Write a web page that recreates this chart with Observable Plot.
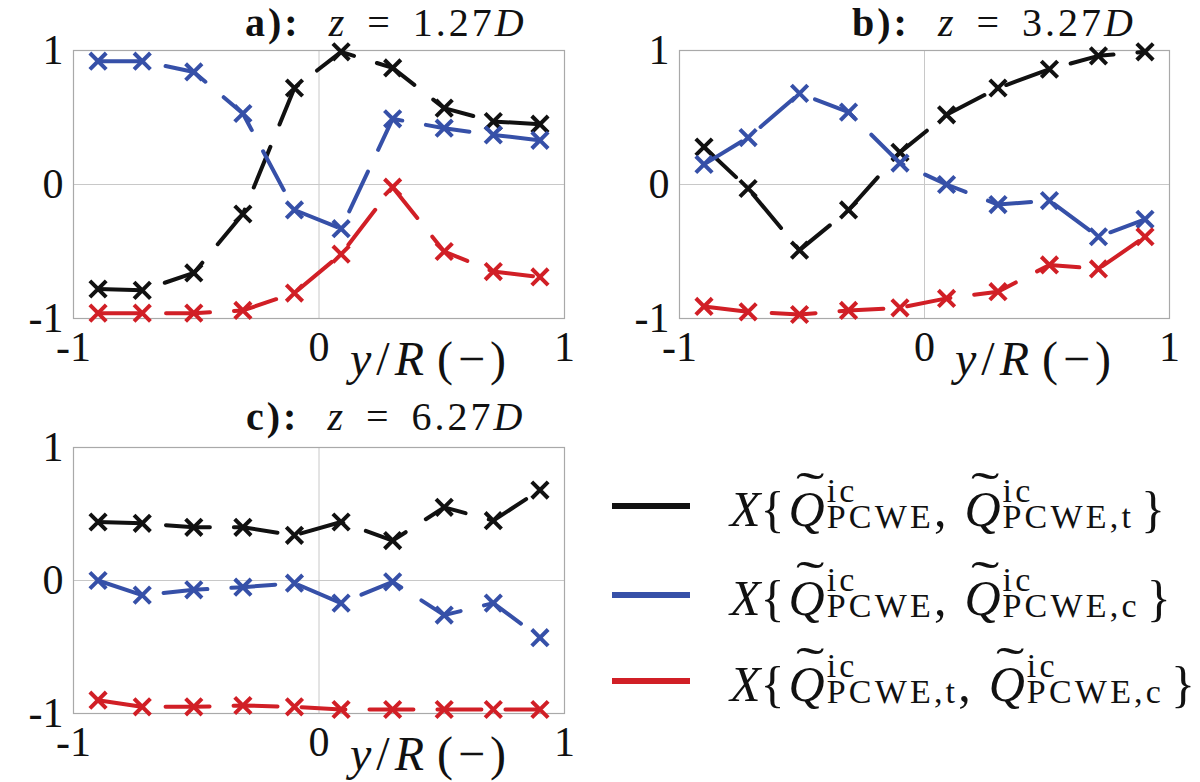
<!DOCTYPE html>
<html><head><meta charset="utf-8">
<script src="https://cdn.jsdelivr.net/npm/d3@7"></script>
<script src="https://cdn.jsdelivr.net/npm/@observablehq/plot@0.6"></script>
<style>
body{margin:0;background:#fff;}
#wrap{position:relative;width:1200px;height:782px;overflow:hidden;color:#111;}
.panel{position:absolute;}
.panel svg{overflow:visible;}
.title{position:absolute;font-size:40px;line-height:40px;white-space:nowrap;letter-spacing:3px;}
.title b{font-weight:bold;margin-right:28px;}
.title .eq{margin:0 20px;}
.xlab{position:absolute;font-size:48px;line-height:48px;white-space:nowrap;letter-spacing:5px;}
.xlab .pr{margin-left:8px;}
.leg{position:absolute;left:612px;display:flex;align-items:center;white-space:nowrap;}
.sw{display:inline-block;width:78px;height:6px;margin-right:40px;}
.m{font-size:50px;line-height:50px;}
.q{position:relative;display:inline-block;margin-left:4px;}
.q::before{content:"\02DC";position:absolute;left:0.14em;top:-0.38em;transform:scaleX(1.7);transform-origin:left center;font-style:normal;}
.ss{display:inline-flex;flex-direction:column;font-size:34px;line-height:26px;vertical-align:24px;margin-left:2px;letter-spacing:3.2px;}
.cm{margin-right:14px;}
.rb{margin-left:7px;}
</style>
</head><body>
<div id="wrap"></div>
<script>
// x positions (y/R)
const yR = [-0.9, -0.72, -0.51, -0.31, -0.1, 0.09, 0.3, 0.51, 0.71, 0.9];
const ticks = [-1, 0, 1];
const seriesKeys = ["PCWE-t", "PCWE-c", "t-c"];
const seriesColors = ["#111111", "#3650a8", "#d11f26"];

// panel a): z = 1.27D
const aBlack = [-0.78, -0.79, -0.66, -0.22, 0.72, 0.99, 0.87, 0.57, 0.47, 0.45];
const aBlue  = [0.92, 0.92, 0.84, 0.53, -0.19, -0.33, 0.49, 0.42, 0.37, 0.33];
const aRed   = [-0.96, -0.96, -0.96, -0.94, -0.81, -0.52, -0.02, -0.50, -0.65, -0.69];
// panel b): z = 3.27D
const bBlack = [0.28, -0.03, -0.49, -0.19, 0.24, 0.52, 0.72, 0.86, 0.96, 0.99];
const bBlue  = [0.15, 0.35, 0.68, 0.54, 0.16, 0.0, -0.15, -0.12, -0.39, -0.26];
const bRed   = [-0.91, -0.95, -0.97, -0.94, -0.92, -0.85, -0.80, -0.60, -0.63, -0.39];
// panel c): z = 6.27D
const cBlack = [0.44, 0.43, 0.40, 0.40, 0.34, 0.44, 0.30, 0.55, 0.45, 0.68];
const cBlue  = [0.0, -0.11, -0.07, -0.05, -0.02, -0.17, -0.01, -0.26, -0.17, -0.43];
const cRed   = [-0.90, -0.95, -0.95, -0.94, -0.95, -0.97, -0.97, -0.97, -0.97, -0.97];

function table(series) {
  const rows = [];
  series.forEach((vals, i) => vals.forEach((v, j) => rows.push({yR: yR[j], v, s: seriesKeys[i]})));
  return rows;
}

const serif = "'Liberation Serif'";
function panel(data, w, h, m) {
  return Plot.plot({
    width: w, height: h,
    marginLeft: m[0], marginRight: m[1], marginTop: m[2], marginBottom: m[3],
    x: {domain: [-1, 1]},
    y: {domain: [-1, 1]},
    color: {domain: seriesKeys, range: seriesColors},
    style: {fontFamily: serif, fontSize: "42px", color: "#111", background: "transparent"},
    marks: [
      Plot.ruleX([0], {stroke: "#c8c8c8", strokeWidth: 1}),
      Plot.ruleY([0], {stroke: "#c8c8c8", strokeWidth: 1}),
      Plot.frame({stroke: "#a9a9a9", strokeWidth: 1.2}),
      Plot.axisX({ticks, tickFormat: d => String(d), tickSize: 0, tickPadding: 13, label: null, fontFamily: serif}),
      Plot.axisY({ticks, tickFormat: d => String(d), tickSize: 0, tickPadding: 10, label: null, fontFamily: serif}),
      ...seriesKeys.flatMap(k => [
        Plot.line(data.filter(d => d.s === k), {x: "yR", y: "v", stroke: "s", strokeWidth: 4, strokeDasharray: "44,24"}),
        Plot.dot(data.filter(d => d.s === k), {x: "yR", y: "v", stroke: "s", symbol: "times", r: 7.5, strokeWidth: 4})
      ])
    ]
  });
}

const wrap = document.getElementById("wrap");
function place(node, left, top) {
  const d = document.createElement("div");
  d.className = "panel";
  d.style.left = left + "px"; d.style.top = top + "px";
  d.appendChild(node);
  wrap.appendChild(d);
}
place(panel(table([aBlack, aBlue, aRed]), 600, 395, [73, 36, 50, 77]), 0, 0);
place(panel(table([bBlack, bBlue, bRed]), 600, 395, [79, 31, 50, 77]), 600, 0);
place(panel(table([cBlack, cBlue, cRed]), 600, 387, [73, 36, 52, 69]), 0, 395);

function addHTML(html) { wrap.insertAdjacentHTML("beforeend", html); }
const ff = `font-family:'Liberation Serif';`;
const titles = [["a):", "1.27", 245, 3], ["b):", "3.27", 852, 3], ["c):", "6.27", 246, 397]];
titles.forEach(([lab, val, l, t]) =>
  addHTML(`<div class="title" style="${ff}left:${l}px;top:${t}px"><b>${lab}</b><i>z</i><span class="eq">=</span>${val}<i>D</i></div>`));
[[350, 335], [955, 335], [350, 730]].forEach(([l, t]) =>
  addHTML(`<div class="xlab" style="${ff}left:${l}px;top:${t}px"><i>y</i>/<i>R</i><span class="pr">(&minus;)</span></div>`));

const legSubs = [["PCWE", "PCWE,t"], ["PCWE", "PCWE,c"], ["PCWE,t", "PCWE,c"]];
const legTops = [478, 567, 653];
legSubs.forEach(([s1, s2], i) => {
  const q = s => `<span class="q"><i>Q</i></span><span class="ss"><span>ic</span><span>${s}</span></span>`;
  addHTML(`<div class="leg" style="${ff}top:${legTops[i]}px"><span class="sw" style="background:${seriesColors[i]}"></span><span class="m"><i>X</i>{${q(s1)}<span class="cm">,</span>${q(s2)}<span class="rb">}</span></span></div>`);
});
</script>
</body></html>
